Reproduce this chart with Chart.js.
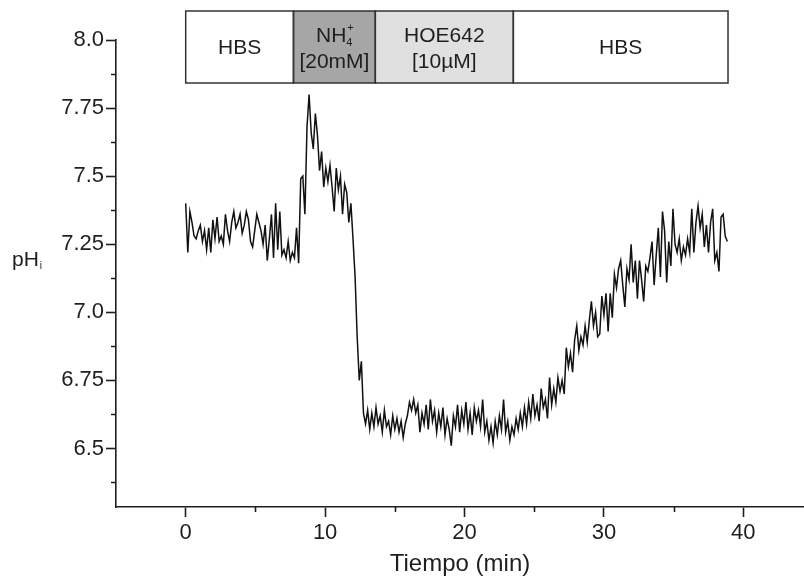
<!DOCTYPE html>
<html>
<head>
<meta charset="utf-8">
<script src="https://cdn.jsdelivr.net/npm/chart.js@4.4.1/dist/chart.umd.min.js"></script>
<style>
  html, body { margin: 0; padding: 0; background: #fff; }
  #wrap { width: 804px; height: 580px; }
</style>
</head>
<body>
<div id="wrap"><canvas id="phChart" width="804" height="580"></canvas></div>
<script>
// intracellular pH trace, one sample every 0.15 min
const sampleMinutes = 0.15;
const phValues = [
  // HBS baseline
  7.40, 7.22, 7.37, 7.33, 7.28, 7.27, 7.30, 7.32, 7.26, 7.30,
  7.23, 7.31, 7.22, 7.34, 7.27, 7.35, 7.26, 7.28, 7.25, 7.36,
  7.30, 7.26, 7.33, 7.37, 7.31, 7.33, 7.36, 7.29, 7.32, 7.37,
  7.34, 7.26, 7.24, 7.30, 7.36, 7.33, 7.30, 7.25, 7.32, 7.19,
  7.27, 7.36, 7.20, 7.40, 7.23, 7.37, 7.21, 7.23, 7.20, 7.26,
  7.19, 7.22,
  // NH4+ pulse and washout
  7.20, 7.31, 7.18, 7.49, 7.50, 7.36, 7.68, 7.80, 7.66, 7.60,
  7.73, 7.65, 7.52, 7.59, 7.46, 7.53, 7.48, 7.54, 7.46, 7.37,
  7.53, 7.45, 7.50, 7.36, 7.47, 7.44, 7.33, 7.40, 7.27, 7.13,
  6.91, 6.75, 6.82, 6.63, 6.59, 6.64,
  // acidified plateau under HOE642
  6.57, 6.63, 6.58, 6.65, 6.59, 6.62, 6.56, 6.64, 6.58, 6.60,
  6.55, 6.62, 6.57, 6.61, 6.56, 6.60, 6.54, 6.59, 6.62, 6.67,
  6.64, 6.68, 6.63, 6.66, 6.56, 6.63, 6.59, 6.66, 6.57, 6.68,
  6.60, 6.64, 6.56, 6.63, 6.58, 6.65, 6.55, 6.61, 6.57, 6.51,
  6.62, 6.58, 6.66, 6.56, 6.64, 6.59, 6.67, 6.57, 6.63, 6.55,
  6.65, 6.60, 6.64, 6.58, 6.68, 6.56, 6.60, 6.53, 6.58, 6.52,
  6.60, 6.55, 6.62, 6.57, 6.68, 6.56, 6.60, 6.53, 6.58, 6.55,
  6.61, 6.57, 6.63, 6.58, 6.65, 6.59, 6.67, 6.61, 6.70, 6.62,
  6.66, 6.60, 6.72, 6.65, 6.68, 6.61, 6.76,
  // recovery back in HBS
  6.66, 6.72, 6.67, 6.76, 6.71, 6.75, 6.70, 6.87, 6.80, 6.85,
  6.78, 6.90, 6.95, 6.86, 6.91, 6.88, 6.95, 6.89, 6.97, 7.04,
  6.95, 7.00, 6.91, 6.92, 7.06, 6.99, 7.07, 6.93, 7.07, 6.98,
  7.14, 7.09, 7.16, 7.19, 7.10, 7.02, 7.16, 7.12, 7.25, 7.11,
  7.19, 7.05, 7.19, 7.12, 7.04, 7.17, 7.15, 7.20, 7.26, 7.10,
  7.21, 7.31, 7.13, 7.37, 7.30, 7.11, 7.26, 7.17, 7.38, 7.25,
  7.22, 7.27, 7.19, 7.24, 7.21, 7.27, 7.22, 7.38, 7.22, 7.33,
  7.39, 7.31, 7.36, 7.24, 7.32, 7.22, 7.33, 7.38, 7.19, 7.22,
  7.15, 7.35, 7.36, 7.28, 7.26
];

const xTickValues = [0, 10, 20, 30, 40];
const xMinorValues = [5, 15, 25, 35];
const yTickValues = [6.5, 6.75, 7.0, 7.25, 7.5, 7.75, 8.0];
const yTickLabels = ['6.5', '6.75', '7.0', '7.25', '7.5', '7.75', '8.0'];
const yMinorValues = [6.375, 6.625, 6.875, 7.125, 7.375, 7.625, 7.875];

// perfusion protocol bar
const phaseEdges = [0, 7.73, 13.6, 23.5, 38.9];
const phaseFills = ['#ffffff', '#a6a6a6', '#e0e0e0', '#ffffff'];
const phaseLines = [
  [{ text: 'HBS' }],
  [{ text: 'NH', sub: '4', sup: '+' }, { text: '[20mM]' }],
  [{ text: 'HOE642' }, { text: '[10µM]' }],
  [{ text: 'HBS' }]
];

const FONT = '"Liberation Sans", Arial, sans-serif';
const INK = '#1e1e1e';

const points = phValues.map((v, i) => ({ x: +(i * sampleMinutes).toFixed(2), y: v }));

const extras = {
  id: 'extras',
  afterDraw(chart) {
    const ctx = chart.ctx;
    const xs = chart.scales.x;
    const ys = chart.scales.y;
    const area = chart.chartArea;
    ctx.save();

    // minor ticks
    ctx.strokeStyle = INK;
    ctx.lineWidth = 1.6;
    ctx.beginPath();
    xMinorValues.forEach(v => {
      const px = Math.round(xs.getPixelForValue(v)) + 0.5;
      ctx.moveTo(px, area.bottom);
      ctx.lineTo(px, area.bottom + 5);
    });
    yMinorValues.forEach(v => {
      const py = Math.round(ys.getPixelForValue(v)) + 0.5;
      ctx.moveTo(area.left, py);
      ctx.lineTo(area.left - 5, py);
    });
    ctx.stroke();

    // protocol boxes
    const top = area.top - 29;
    const bottom = area.top + 43;
    for (let i = 0; i < phaseFills.length; i++) {
      const x0 = xs.getPixelForValue(phaseEdges[i]);
      const x1 = xs.getPixelForValue(phaseEdges[i + 1]);
      ctx.fillStyle = phaseFills[i];
      ctx.fillRect(x0, top, x1 - x0, bottom - top);
    }
    ctx.strokeStyle = '#333';
    ctx.lineWidth = 1.5;
    for (let i = 0; i < phaseFills.length; i++) {
      const x0 = xs.getPixelForValue(phaseEdges[i]);
      const x1 = xs.getPixelForValue(phaseEdges[i + 1]);
      ctx.strokeRect(x0, top, x1 - x0, bottom - top);
    }

    ctx.fillStyle = INK;
    ctx.textBaseline = 'alphabetic';
    for (let i = 0; i < phaseLines.length; i++) {
      const cx = (xs.getPixelForValue(phaseEdges[i]) + xs.getPixelForValue(phaseEdges[i + 1])) / 2;
      const lines = phaseLines[i];
      const baselines = lines.length === 1 ? [top + 43] : [top + 31, top + 57];
      lines.forEach((ln, k) => {
        ctx.font = '21px ' + FONT;
        const wMain = ctx.measureText(ln.text).width;
        let wSub = 0;
        if (ln.sub) {
          ctx.font = '11px ' + FONT;
          wSub = Math.max(ctx.measureText(ln.sub).width, ctx.measureText(ln.sup).width);
        }
        const x = cx - (wMain + wSub) / 2;
        const y = baselines[k];
        ctx.font = '21px ' + FONT;
        ctx.textAlign = 'left';
        ctx.fillText(ln.text, x, y);
        if (ln.sub) {
          ctx.font = '11px ' + FONT;
          ctx.fillText(ln.sub, x + wMain, y + 4);
          ctx.fillText(ln.sup, x + wMain + 1, y - 11);
        }
      });
    }

    // y axis title pH with subscript i
    ctx.font = '21px ' + FONT;
    ctx.textAlign = 'left';
    const yBase = ys.getPixelForValue(7.25) + 22;
    ctx.fillText('pH', 12, yBase);
    const wp = ctx.measureText('pH').width;
    ctx.font = '10px ' + FONT;
    ctx.fillText('i', 12 + wp + 1, yBase + 3);

    ctx.restore();
  }
};

new Chart(document.getElementById('phChart'), {
  type: 'line',
  data: {
    datasets: [{
      data: points,
      borderColor: '#111',
      borderWidth: 1.5,
      pointRadius: 0,
      tension: 0,
      fill: false
    }]
  },
  options: {
    responsive: false,
    animation: false,
    events: [],
    layout: { padding: { top: 40, right: 0, bottom: 0, left: 0 } },
    plugins: { legend: { display: false }, tooltip: { enabled: false } },
    scales: {
      x: {
        type: 'linear',
        min: -5,
        max: 44.35,
        afterBuildTicks: s => { s.ticks = xTickValues.map(v => ({ value: v })); },
        afterFit: s => { s.height = 73; },
        grid: { drawOnChartArea: false, drawTicks: true, tickLength: 10, tickColor: INK, tickWidth: 1.6 },
        border: { display: true, color: INK, width: 1.6 },
        ticks: { color: INK, font: { family: FONT, size: 22 }, padding: 3, maxRotation: 0 },
        title: { display: true, text: 'Tiempo (min)', color: INK, font: { family: FONT, size: 24 }, padding: { top: 0, bottom: 1 } }
      },
      y: {
        min: 6.285,
        max: 8.0,
        afterBuildTicks: s => { s.ticks = yTickValues.map(v => ({ value: v })); },
        afterFit: s => { s.width = 116; },
        grid: { drawOnChartArea: false, drawTicks: true, tickLength: 10, tickColor: INK, tickWidth: 1.6 },
        border: { display: true, color: INK, width: 1.6 },
        ticks: {
          color: INK,
          font: { family: FONT, size: 22 },
          padding: 2,
          callback: v => yTickLabels[yTickValues.indexOf(v)]
        }
      }
    }
  },
  plugins: [extras]
});
</script>
</body>
</html>
